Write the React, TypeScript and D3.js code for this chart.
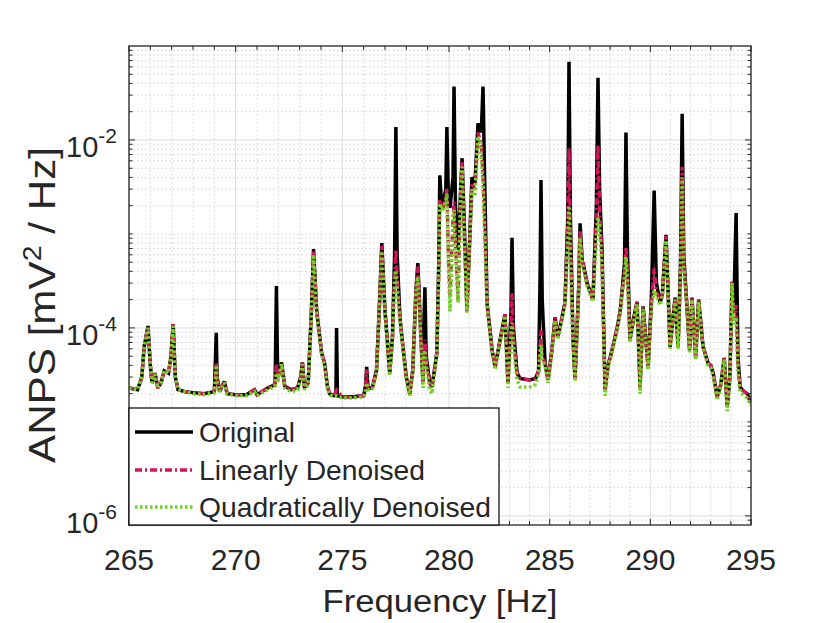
import React from 'react';
import * as d3 from 'd3';

const xTickValues = [265, 270, 275, 280, 285, 290, 295];
const yTickExponents = [-6, -4, -2];
const seriesNames = ['Original', 'Linearly Denoised', 'Quadratically Denoised'];

const original: [number, number][] = [
  [265.00,2.3e-5],[265.40,2.2e-5],[265.60,3.0e-5],[265.71,6.3e-5],[265.89,1.05e-4],[266.00,4.0e-5],[266.08,2.6e-5],[266.22,3.3e-5],[266.35,2.3e-5],[266.50,2.6e-5],[266.65,3.5e-5],[266.85,3.3e-5],[266.97,5.0e-5],[267.07,1.1e-4],[267.17,3.0e-5],[267.30,2.2e-5],[267.60,2.1e-5],[268.00,2.05e-5],[268.50,2.0e-5],[269.00,2.1e-5],[269.05,4.5e-5],[269.09,8.9e-5],[269.13,3.0e-5],[269.25,2.1e-5],[269.47,2.7e-5],[269.60,2.0e-5],[270.00,1.95e-5],[270.50,1.95e-5],[270.88,2.2e-5],[271.00,1.95e-5],[271.50,2.3e-5],[271.85,2.5e-5],[271.91,2.8e-4],[271.97,3.0e-5],[272.15,4.3e-5],[272.30,2.4e-5],[272.60,2.2e-5],[272.90,2.3e-5],[273.05,3.0e-5],[273.13,4.3e-5],[273.22,2.3e-5],[273.40,2.6e-5],[273.55,1.5e-4],[273.65,6.9e-4],[273.80,1.5e-4],[274.03,5.4e-5],[274.17,4.2e-5],[274.30,2.4e-5],[274.40,2.0e-5],[274.60,1.9e-5],[274.70,2.0e-5],[274.73,1.0e-4],[274.77,1.9e-5],[275.00,1.85e-5],[275.50,1.85e-5],[276.00,1.9e-5],[276.10,2.5e-5],[276.14,3.85e-5],[276.20,2.3e-5],[276.40,2.3e-5],[276.60,3.5e-5],[276.75,2.0e-4],[276.85,8.0e-4],[277.00,1.5e-4],[277.08,8.9e-5],[277.22,3.3e-5],[277.35,8.0e-5],[277.45,6.0e-4],[277.51,1.37e-2],[277.57,6.0e-4],[277.70,1.3e-4],[277.84,6.3e-5],[278.00,3.0e-5],[278.16,2.0e-5],[278.30,3.5e-5],[278.45,2.5e-4],[278.54,4.9e-4],[278.65,1.2e-4],[278.78,2.6e-5],[278.83,1.3e-4],[278.87,2.7e-4],[278.93,5.0e-5],[279.10,2.6e-5],[279.20,2.35e-5],[279.35,4.0e-5],[279.43,5.4e-5],[279.52,5.0e-4],[279.57,4.2e-3],[279.65,2.1e-3],[279.72,2.1e-3],[279.85,3.0e-3],[279.90,1.37e-2],[279.97,2.5e-3],[280.05,1.9e-3],[280.20,4.0e-3],[280.25,3.7e-2],[280.32,2.0e-3],[280.45,6.8e-4],[280.58,3.0e-3],[280.65,6.4e-3],[280.75,1.5e-3],[280.89,1.6e-4],[281.00,6.0e-4],[281.14,4.0e-3],[281.29,3.5e-3],[281.44,1.5e-2],[281.55,1.2e-2],[281.62,1.5e-2],[281.69,3.7e-2],[281.76,5.0e-3],[281.89,1.85e-4],[282.14,5.8e-5],[282.29,3.85e-5],[282.53,7.3e-5],[282.78,1.4e-4],[282.93,2.6e-5],[283.08,1.5e-4],[283.13,9.1e-4],[283.20,1.0e-4],[283.38,3.3e-5],[283.53,2.9e-5],[284.00,2.8e-5],[284.30,2.9e-5],[284.45,3.5e-5],[284.52,3.0e-4],[284.57,3.75e-3],[284.63,2.0e-4],[284.77,4.2e-5],[284.92,2.8e-5],[285.12,6.1e-5],[285.27,1.3e-4],[285.40,8.0e-5],[285.51,1.0e-4],[285.76,1.85e-4],[285.90,1.5e-3],[285.96,6.8e-2],[286.03,1.5e-3],[286.16,7.5e-5],[286.26,2.9e-5],[286.45,3.0e-4],[286.51,1.3e-3],[286.62,5.0e-4],[286.66,4.9e-4],[286.86,3.0e-4],[287.15,2.0e-4],[287.32,2.0e-3],[287.40,4.6e-2],[287.48,3.0e-3],[287.60,6.8e-4],[287.75,2.2e-5],[287.90,4.0e-5],[288.10,5.8e-5],[288.35,1.0e-4],[288.50,1.5e-4],[288.59,2.35e-4],[288.72,5.0e-4],[288.79,1.2e-2],[288.86,7.0e-4],[288.99,7.5e-5],[289.15,1.2e-4],[289.34,1.9e-4],[289.49,2.35e-5],[289.64,1.7e-4],[289.89,3.85e-5],[290.05,2.0e-4],[290.19,2.9e-3],[290.30,3.0e-4],[290.49,1.85e-4],[290.60,2.3e-4],[290.78,9.8e-4],[290.98,6.3e-5],[291.23,2.1e-4],[291.38,6.3e-5],[291.50,5.0e-4],[291.58,1.9e-2],[291.66,6.0e-4],[291.78,2.3e-4],[291.95,5.8e-5],[292.07,2.1e-4],[292.25,4.9e-5],[292.40,2.0e-4],[292.62,6.3e-5],[292.87,4.2e-5],[293.00,4.0e-5],[293.12,3.3e-5],[293.32,1.85e-5],[293.50,2.5e-5],[293.67,4.8e-5],[293.82,1.45e-5],[293.95,3.0e-5],[294.06,3.1e-4],[294.14,1.5e-4],[294.26,1.67e-3],[294.35,5.0e-5],[294.46,2.35e-5],[294.65,2.1e-5],[294.81,2.0e-5],[295.00,1.6e-5]
];

const linear: [number, number][] = [
  [265.00,2.3e-5],[265.40,2.2e-5],[265.60,3.0e-5],[265.71,6.3e-5],[265.89,1.05e-4],[266.00,4.0e-5],[266.08,2.6e-5],[266.22,3.3e-5],[266.35,2.3e-5],[266.50,2.6e-5],[266.65,3.5e-5],[266.85,3.3e-5],[266.97,5.0e-5],[267.07,1.1e-4],[267.17,3.0e-5],[267.30,2.2e-5],[267.60,2.1e-5],[268.00,2.05e-5],[268.50,2.0e-5],[269.00,2.1e-5],[269.05,3.0e-5],[269.09,4.2e-5],[269.13,2.8e-5],[269.25,2.1e-5],[269.47,2.7e-5],[269.60,2.0e-5],[270.00,1.95e-5],[270.50,1.95e-5],[270.88,2.2e-5],[271.00,1.95e-5],[271.50,2.3e-5],[271.85,2.5e-5],[271.91,4.2e-5],[271.97,2.8e-5],[272.15,4.3e-5],[272.30,2.4e-5],[272.60,2.2e-5],[272.90,2.3e-5],[273.05,3.0e-5],[273.13,4.3e-5],[273.22,2.3e-5],[273.40,2.6e-5],[273.55,1.5e-4],[273.65,6.5e-4],[273.80,1.5e-4],[274.03,5.4e-5],[274.17,4.2e-5],[274.30,2.4e-5],[274.40,2.0e-5],[274.60,1.9e-5],[274.73,2.2e-5],[275.00,1.85e-5],[275.50,1.85e-5],[276.00,1.9e-5],[276.10,2.4e-5],[276.14,3.6e-5],[276.20,2.3e-5],[276.40,2.3e-5],[276.60,3.5e-5],[276.75,2.0e-4],[276.85,7.5e-4],[277.00,1.5e-4],[277.08,8.9e-5],[277.22,3.3e-5],[277.35,8.0e-5],[277.45,4.0e-4],[277.51,6.8e-4],[277.57,3.5e-4],[277.70,1.3e-4],[277.84,6.3e-5],[278.00,3.0e-5],[278.16,2.0e-5],[278.30,3.5e-5],[278.45,2.5e-4],[278.54,4.5e-4],[278.65,1.2e-4],[278.78,2.6e-5],[278.83,6.0e-5],[278.87,7.5e-5],[278.93,4.5e-5],[279.10,2.6e-5],[279.20,2.35e-5],[279.35,4.0e-5],[279.43,5.4e-5],[279.52,4.0e-4],[279.57,2.3e-3],[279.65,2.0e-3],[279.72,1.9e-3],[279.85,2.5e-3],[279.90,3.0e-3],[279.97,6.0e-4],[280.05,2.2e-4],[280.20,1.5e-3],[280.25,2.2e-3],[280.32,8.0e-4],[280.45,2.0e-4],[280.58,3.0e-3],[280.65,5.8e-3],[280.75,1.2e-3],[280.89,1.5e-4],[281.00,6.0e-4],[281.14,3.5e-3],[281.29,3.0e-3],[281.44,1.2e-2],[281.55,1.0e-2],[281.62,8.0e-3],[281.69,4.0e-3],[281.76,1.5e-3],[281.89,1.85e-4],[282.14,5.8e-5],[282.29,3.85e-5],[282.53,7.3e-5],[282.78,1.4e-4],[282.93,2.6e-5],[283.08,1.2e-4],[283.13,2.35e-4],[283.20,8.0e-5],[283.38,3.3e-5],[283.53,2.9e-5],[284.00,2.8e-5],[284.30,2.9e-5],[284.45,3.5e-5],[284.52,6.0e-5],[284.57,9.5e-5],[284.63,5.0e-5],[284.77,4.2e-5],[284.92,2.8e-5],[285.12,6.1e-5],[285.27,1.3e-4],[285.40,8.0e-5],[285.51,1.0e-4],[285.76,1.85e-4],[285.90,1.2e-3],[285.96,8.2e-3],[286.03,1.0e-3],[286.16,7.5e-5],[286.26,2.9e-5],[286.45,3.0e-4],[286.51,1.1e-3],[286.62,5.0e-4],[286.66,4.9e-4],[286.86,3.0e-4],[287.15,2.0e-4],[287.32,1.5e-3],[287.40,8.8e-3],[287.48,2.0e-3],[287.60,5.0e-4],[287.75,2.2e-5],[287.90,4.0e-5],[288.10,5.8e-5],[288.35,1.0e-4],[288.50,1.5e-4],[288.59,2.35e-4],[288.72,4.0e-4],[288.79,7.3e-4],[288.86,4.0e-4],[288.99,7.5e-5],[289.15,1.2e-4],[289.34,1.9e-4],[289.49,2.35e-5],[289.64,1.7e-4],[289.89,3.85e-5],[290.05,1.8e-4],[290.19,4.3e-4],[290.30,2.5e-4],[290.49,1.85e-4],[290.60,2.3e-4],[290.78,9.5e-4],[290.98,6.3e-5],[291.23,2.1e-4],[291.38,6.3e-5],[291.50,4.0e-4],[291.58,5.2e-3],[291.66,5.0e-4],[291.78,2.3e-4],[291.95,5.8e-5],[292.07,2.1e-4],[292.25,4.9e-5],[292.40,2.0e-4],[292.62,6.3e-5],[292.87,4.2e-5],[293.00,4.0e-5],[293.12,3.3e-5],[293.32,1.85e-5],[293.50,2.5e-5],[293.67,4.8e-5],[293.82,1.45e-5],[293.95,3.0e-5],[294.06,3.1e-4],[294.14,1.2e-4],[294.26,1.75e-4],[294.35,4.0e-5],[294.46,2.35e-5],[294.65,2.1e-5],[294.81,2.0e-5],[295.00,1.6e-5]
];

const quadratic: [number, number][] = [
  [265.00,2.3e-5],[265.40,2.2e-5],[265.60,3.0e-5],[265.71,6.3e-5],[265.89,1.0e-4],[266.00,4.0e-5],[266.08,2.6e-5],[266.22,3.2e-5],[266.35,2.3e-5],[266.50,2.6e-5],[266.65,3.5e-5],[266.85,3.3e-5],[266.97,5.0e-5],[267.07,1.05e-4],[267.17,3.0e-5],[267.30,2.2e-5],[267.60,2.1e-5],[268.00,2.0e-5],[268.50,1.95e-5],[269.00,2.05e-5],[269.05,2.8e-5],[269.09,4.0e-5],[269.13,2.6e-5],[269.25,2.1e-5],[269.47,2.6e-5],[269.60,2.0e-5],[270.00,1.9e-5],[270.50,1.9e-5],[270.88,2.1e-5],[271.00,1.9e-5],[271.50,2.2e-5],[271.85,2.4e-5],[271.91,3.3e-5],[271.97,2.6e-5],[272.15,4.1e-5],[272.30,2.3e-5],[272.60,2.1e-5],[272.90,2.2e-5],[273.05,2.9e-5],[273.13,4.1e-5],[273.22,2.2e-5],[273.40,2.5e-5],[273.55,1.4e-4],[273.65,6.0e-4],[273.80,1.4e-4],[274.03,5.2e-5],[274.17,4.0e-5],[274.30,2.3e-5],[274.40,1.95e-5],[274.60,1.85e-5],[274.73,1.9e-5],[275.00,1.8e-5],[275.50,1.8e-5],[276.00,1.85e-5],[276.10,2.1e-5],[276.14,2.6e-5],[276.20,2.2e-5],[276.40,2.2e-5],[276.60,3.3e-5],[276.75,1.9e-4],[276.85,6.5e-4],[277.00,1.4e-4],[277.08,8.5e-5],[277.22,3.1e-5],[277.35,7.5e-5],[277.45,3.0e-4],[277.51,4.1e-4],[277.57,2.6e-4],[277.70,1.2e-4],[277.84,6.0e-5],[278.00,2.8e-5],[278.16,1.9e-5],[278.30,3.3e-5],[278.45,2.3e-4],[278.54,3.5e-4],[278.65,1.1e-4],[278.78,2.3e-5],[278.83,5.0e-5],[278.87,5.8e-5],[278.93,4.0e-5],[279.10,2.2e-5],[279.20,2.0e-5],[279.35,3.7e-5],[279.43,5.2e-5],[279.52,3.5e-4],[279.57,2.1e-3],[279.65,1.9e-3],[279.72,1.8e-3],[279.85,2.2e-3],[279.90,2.7e-3],[279.97,5.0e-4],[280.05,1.5e-4],[280.20,1.2e-3],[280.25,1.8e-3],[280.32,7.0e-4],[280.45,1.85e-4],[280.58,2.8e-3],[280.65,5.2e-3],[280.75,1.0e-3],[280.89,1.45e-4],[281.00,5.5e-4],[281.14,3.0e-3],[281.29,2.5e-3],[281.44,1.1e-2],[281.55,9.0e-3],[281.62,6.0e-3],[281.69,3.5e-3],[281.76,1.2e-3],[281.89,1.75e-4],[282.14,5.5e-5],[282.29,3.6e-5],[282.53,7.0e-5],[282.78,1.35e-4],[282.93,2.3e-5],[283.08,8.0e-5],[283.13,1.13e-4],[283.20,6.5e-5],[283.38,2.8e-5],[283.53,2.35e-5],[284.00,2.35e-5],[284.30,2.5e-5],[284.45,3.2e-5],[284.52,5.0e-5],[284.57,6.6e-5],[284.63,4.5e-5],[284.77,4.0e-5],[284.92,2.6e-5],[285.12,5.8e-5],[285.27,1.2e-4],[285.40,7.5e-5],[285.51,9.5e-5],[285.76,1.75e-4],[285.90,8.0e-4],[285.96,2.0e-3],[286.03,6.0e-4],[286.16,7.0e-5],[286.26,2.7e-5],[286.45,2.8e-4],[286.51,9.1e-4],[286.62,4.6e-4],[286.66,4.5e-4],[286.86,2.8e-4],[287.15,1.9e-4],[287.32,9.0e-4],[287.40,1.5e-3],[287.48,1.2e-3],[287.60,4.5e-4],[287.75,1.9e-5],[287.90,3.8e-5],[288.10,5.5e-5],[288.35,9.5e-5],[288.50,1.4e-4],[288.59,2.2e-4],[288.72,3.5e-4],[288.79,5.7e-4],[288.86,3.5e-4],[288.99,7.0e-5],[289.15,1.1e-4],[289.34,1.8e-4],[289.49,2.0e-5],[289.64,1.6e-4],[289.89,3.6e-5],[290.05,1.6e-4],[290.19,2.5e-4],[290.30,2.2e-4],[290.49,1.75e-4],[290.60,2.2e-4],[290.78,8.5e-4],[290.98,6.0e-5],[291.23,2.0e-4],[291.38,6.0e-5],[291.50,3.5e-4],[291.58,4.0e-3],[291.66,4.5e-4],[291.78,2.2e-4],[291.95,5.5e-5],[292.07,2.0e-4],[292.25,4.6e-5],[292.40,1.9e-4],[292.62,6.0e-5],[292.87,4.0e-5],[293.00,3.8e-5],[293.12,3.1e-5],[293.32,1.7e-5],[293.50,2.4e-5],[293.67,4.6e-5],[293.82,1.3e-5],[293.95,2.8e-5],[294.06,3.0e-4],[294.14,1.1e-4],[294.26,1.3e-4],[294.35,3.6e-5],[294.46,2.1e-5],[294.65,1.9e-5],[294.81,1.8e-5],[295.00,1.5e-5]
];

const FONT = '"Liberation Sans", Arial, Helvetica, sans-serif';
const INK = '#262626';

export default function App() {
  const W = 830, H = 623;
  const left = 129, right = 751, top = 46, bottom = 525;
  const x = d3.scaleLinear().domain([265, 280, 295]).range([left, 449, right]);
  const y = d3.scaleLog().domain([8e-7, 1e-1]).range([bottom, top]);
  const line = d3.line<[number, number]>().x(d => x(d[0])).y(d => y(d[1]));

  const xMinor = d3.range(266, 295).filter(v => v % 5 !== 0);
  const yMinor: number[] = [];
  for (let e = -7; e <= -2; e++) {
    for (let k = 1; k <= 9; k++) {
      if (k === 1 && yTickExponents.includes(e)) continue;
      const v = k * Math.pow(10, e);
      if (v > 8.01e-7 && v < 0.0999) yMinor.push(v);
    }
  }
  const yMajor = yTickExponents.map(e => Math.pow(10, e));

  const series = [
    { data: original, color: '#000000', width: 3.5, dash: undefined as string | undefined },
    { data: linear, color: '#d4145a', width: 3.3, dash: '7 3 2 3' },
    { data: quadratic, color: '#6fd320', width: 3.6, dash: '2.5 2.5' },
  ];

  const legendX = left, legendY = 408, legendW = 370, legendH = bottom - 408;
  const rowY = [432, 470, 507];
  const legendTextLen = [96, 226, 292];

  return (
    <svg width={W} height={H} style={{ position: 'absolute', left: 0, top: 0, background: '#fff' }}>
      <defs>
        <clipPath id="plotClip">
          <rect x={left} y={top} width={right - left} height={bottom - top} />
        </clipPath>
      </defs>
      <rect x={0} y={0} width={W} height={H} fill="#fff" />
      {/* minor grid */}
      <g stroke="#d2d2d2" strokeWidth={1} strokeDasharray="1.5 2.5">
        {xMinor.map(v => <line key={'xm' + v} x1={x(v)} x2={x(v)} y1={top} y2={bottom} />)}
        {yMinor.map((v, i) => <line key={'ym' + i} x1={left} x2={right} y1={y(v)} y2={y(v)} />)}
      </g>
      {/* major grid */}
      <g stroke="#dcdcdc" strokeWidth={1}>
        {xTickValues.map(v => <line key={'xg' + v} x1={x(v)} x2={x(v)} y1={top} y2={bottom} />)}
        {yMajor.map((v, i) => <line key={'yg' + i} x1={left} x2={right} y1={y(v)} y2={y(v)} />)}
      </g>
      {/* data */}
      <g clipPath="url(#plotClip)" fill="none">
        {series.map((s, i) => (
          <path key={i} d={line(s.data) || ''} stroke={s.color} strokeWidth={s.width}
            strokeDasharray={s.dash} strokeLinejoin="miter" strokeMiterlimit={2} />
        ))}
      </g>
      {/* box */}
      <rect x={left} y={top} width={right - left} height={bottom - top} fill="none" stroke={INK} strokeWidth={1.3} />
      {/* ticks */}
      <g stroke={INK} strokeWidth={1}>
        {xTickValues.map(v => (
          <g key={'xt' + v}>
            <line x1={x(v)} x2={x(v)} y1={bottom} y2={bottom - 6} />
            <line x1={x(v)} x2={x(v)} y1={top} y2={top + 6} />
          </g>
        ))}
        {xMinor.map(v => (
          <g key={'xmt' + v}>
            <line x1={x(v)} x2={x(v)} y1={bottom} y2={bottom - 4} />
            <line x1={x(v)} x2={x(v)} y1={top} y2={top + 4} />
          </g>
        ))}
        {yMajor.map((v, i) => (
          <g key={'yt' + i}>
            <line x1={left} x2={left + 6} y1={y(v)} y2={y(v)} />
            <line x1={right} x2={right - 6} y1={y(v)} y2={y(v)} />
          </g>
        ))}
        {yMinor.map((v, i) => (
          <g key={'ymt' + i}>
            <line x1={left} x2={left + 3.5} y1={y(v)} y2={y(v)} />
            <line x1={right} x2={right - 3.5} y1={y(v)} y2={y(v)} />
          </g>
        ))}
      </g>
      {/* x tick labels */}
      <g fontFamily={FONT} fontSize={30} fill={INK} textAnchor="middle">
        {xTickValues.map(v => <text key={'xl' + v} x={x(v)} y={570}>{v}</text>)}
      </g>
      {/* y tick labels */}
      <g fontFamily={FONT} fill={INK}>
        {yTickExponents.map((e, i) => (
          <text key={'yl' + e} x={117} y={y(yMajor[i]) + 17} textAnchor="end" fontSize={29}>
            <tspan>10</tspan>
            <tspan dy={-14} fontSize={21}>{'-' + Math.abs(e)}</tspan>
          </text>
        ))}
      </g>
      {/* axis labels */}
      <text x={440} y={612} textAnchor="middle" fontFamily={FONT} fontSize={31} fill={INK}
        textLength={235} lengthAdjust="spacingAndGlyphs">Frequency [Hz]</text>
      <text transform="translate(55,305) rotate(-90)" textAnchor="middle" fontFamily={FONT} fontSize={37} fill={INK}
        textLength={316} lengthAdjust="spacingAndGlyphs">
        ANPS [mV<tspan dy={-14} fontSize={25}>2</tspan><tspan dy={14}> / Hz]</tspan>
      </text>
      {/* legend */}
      <rect x={legendX} y={legendY} width={legendW} height={legendH} fill="#fff" stroke="#000" strokeWidth={1.2} />
      {series.map((s, i) => (
        <g key={'lg' + i}>
          <line x1={135} x2={193} y1={rowY[i]} y2={rowY[i]} stroke={s.color} strokeWidth={s.width} strokeDasharray={s.dash} />
          <text x={199} y={rowY[i] + 10} fontFamily={FONT} fontSize={28} fill={INK}
            textLength={legendTextLen[i]} lengthAdjust="spacingAndGlyphs">{seriesNames[i]}</text>
        </g>
      ))}
    </svg>
  );
}
